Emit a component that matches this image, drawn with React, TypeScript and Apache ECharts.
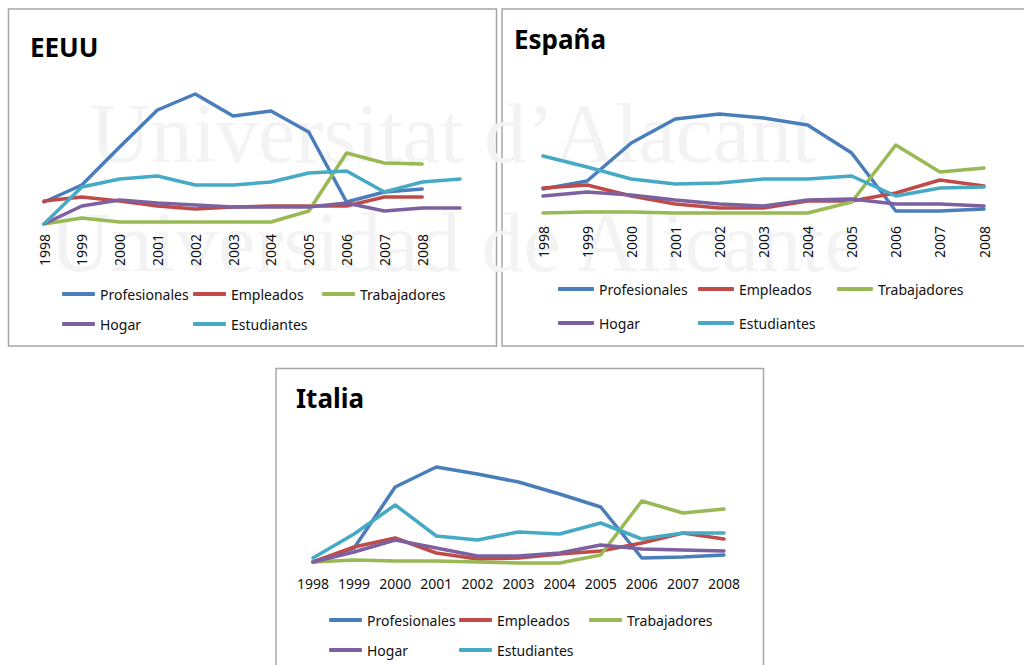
import React, { useEffect, useRef } from "react";
import * as echarts from "echarts";

const years = ["1998", "1999", "2000", "2001", "2002", "2003", "2004", "2005", "2006", "2007", "2008"];
const eeuuYears = [...years, ""];
const seriesNames = ["Profesionales", "Empleados", "Trabajadores", "Hogar", "Estudiantes"];
const colors = ["#4A7EBB", "#BE4B48", "#98B954", "#7D60A0", "#46AAC5"];

// EEUU
const eeuuProfesionales = [22, 39, 77, 114, 130, 108, 113, 92, 22, 32, 35];
const eeuuEmpleados = [23, 27, 23, 18, 15, 17, 18, 18, 18, 27, 27];
const eeuuTrabajadores = [0, 6, 2, 2, 2, 2, 2, 13, 71, 61, 60];
const eeuuHogar = [0, 18, 24, 21, 19, 17, 17, 17, 21, 13, 16, 16];
const eeuuEstudiantes = [0, 37, 45, 48, 39, 39, 42, 51, 53, 32, 42, 45];

// España
const espProfesionales = [27, 35, 73, 97, 102, 98, 91, 63, 5, 5, 7];
const espEmpleados = [28, 31, 20, 12, 8, 8, 15, 15, 23, 36, 30];
const espTrabajadores = [3, 4, 4, 3, 3, 3, 3, 14, 71, 44, 48];
const espHogar = [20, 24, 21, 16, 12, 10, 16, 17, 12, 12, 10];
const espEstudiantes = [60, 49, 37, 32, 33, 37, 37, 40, 20, 28, 29];

// Italia
const itaProfesionales = [2, 16, 77, 97, 90, 82, 70, 57, 6, 7, 9];
const itaEmpleados = [2, 17, 26, 11, 5, 6, 10, 13, 21, 31, 25];
const itaTrabajadores = [2, 4, 3, 3, 2, 1, 1, 9, 63, 51, 55];
const itaHogar = [2, 12, 24, 16, 8, 8, 11, 19, 15, 14, 13];
const itaEstudiantes = [6, 30, 59, 28, 24, 32, 30, 41, 25, 31, 31];

const panelData = [
  [eeuuProfesionales, eeuuEmpleados, eeuuTrabajadores, eeuuHogar, eeuuEstudiantes],
  [espProfesionales, espEmpleados, espTrabajadores, espHogar, espEstudiantes],
  [itaProfesionales, itaEmpleados, itaTrabajadores, itaHogar, itaEstudiantes],
];

const FONT = "Noto Sans";

export default function App() {
  const ref = useRef<HTMLDivElement>(null);

  useEffect(() => {
    if (!ref.current) return;
    const chart = echarts.init(ref.current, null, { renderer: "svg" });

    const grids = [
      { left: 44, width: 416, top: 84, height: 140 },
      { left: 543, width: 441, top: 96, height: 120 },
      { left: 313, width: 411, top: 444, height: 120 },
    ].map((g) => ({ ...g, outerBoundsMode: "none", containLabel: false }));

    const yMax = [140, 120, 120];

    const xAxes = [0, 1, 2].map((i) => ({
      type: "category",
      gridIndex: i,
      z: 6,
      data: i === 0 ? eeuuYears : years,
      boundaryGap: false,
      axisLine: { show: false },
      axisTick: { show: false },
      splitLine: { show: false },
      axisLabel: {
        interval: 0,
        rotate: i === 2 ? 0 : 90,
        margin: i === 2 ? 12 : 10,
        fontFamily: FONT,
        fontSize: 14,
        color: "#111111",
      },
    }));

    const yAxes = [0, 1, 2].map((i) => ({
      type: "value",
      gridIndex: i,
      min: 0,
      max: yMax[i],
      show: false,
      splitLine: { show: false },
    }));

    const series: any[] = [];
    panelData.forEach((arrs, p) => {
      arrs.forEach((d, s) => {
        series.push({
          type: "line",
          name: seriesNames[s],
          xAxisIndex: p,
          yAxisIndex: p,
          data: d,
          symbol: "none",
          showSymbol: false,
          smooth: false,
          z: 3,
          itemStyle: { color: colors[s] },
          lineStyle: { color: colors[s], width: 3.5, cap: "round", join: "round" },
        });
      });
    });

    const legendLayouts = [
      { w: 33, rows: [286, 316], cols: [62, 193, 322] },
      { w: 36, rows: [281, 315], cols: [558, 698, 837] },
      { w: 33, rows: [612, 642], cols: [329, 459, 589] },
    ];
    const legends: any[] = [];
    legendLayouts.forEach((L) => {
      seriesNames.forEach((n, s) => {
        const row = s < 3 ? 0 : 1;
        const col = s < 3 ? s : s - 3;
        legends.push({
          data: [n],
          left: L.cols[col],
          top: L.rows[row],
          padding: 0,
          z: 6,
          icon: "roundRect",
          itemWidth: L.w,
          itemHeight: 4,
          selectedMode: false,
          textStyle: { fontFamily: FONT, fontSize: 14, color: "#111111", lineHeight: 16 },
        });
      });
    });

    const boxStyle = { fill: "#ffffff", stroke: "#a6a6a6", lineWidth: 1.5 };
    const wmStyle = {
      fill: "#f3f3f3",
      font: "84px 'Liberation Serif'",
      lineHeight: 72,
      verticalAlign: "middle",
    };

    const graphic: any[] = [
      { type: "rect", z: 0, shape: { x: 8.5, y: 9, width: 488, height: 337 }, style: boxStyle },
      { type: "rect", z: 0, shape: { x: 502, y: 9, width: 540, height: 337 }, style: boxStyle },
      { type: "rect", z: 0, shape: { x: 276, y: 368.5, width: 487.5, height: 320 }, style: boxStyle },
      { type: "text", z: 1, silent: true, x: 90, y: 133, style: { ...wmStyle, text: "Universitat d\u2019Alacant" } },
      { type: "text", z: 1, silent: true, x: 50, y: 242, style: { ...wmStyle, text: "Universidad de Alicante" } },
      {
        type: "text", z: 5, x: 30, y: 46.5,
        style: { text: "EEUU", font: `bold 26px '${FONT}'`, fill: "#000", verticalAlign: "middle" },
      },
      {
        type: "text", z: 5, x: 514, y: 39,
        style: { text: "España", font: `bold 26px '${FONT}'`, fill: "#000", verticalAlign: "middle" },
      },
      {
        type: "text", z: 5, x: 296, y: 398,
        style: { text: "Italia", font: `bold 26px '${FONT}'`, fill: "#000", verticalAlign: "middle" },
      },
    ];

    chart.setOption({
      animation: false,
      backgroundColor: "#ffffff",
      grid: grids,
      xAxis: xAxes,
      yAxis: yAxes,
      legend: legends,
      series,
      graphic,
    });

    return () => chart.dispose();
  }, []);

  return (
    <div
      ref={ref}
      style={{ position: "fixed", left: 0, top: 0, width: 1024, height: 665 }}
    />
  );
}
